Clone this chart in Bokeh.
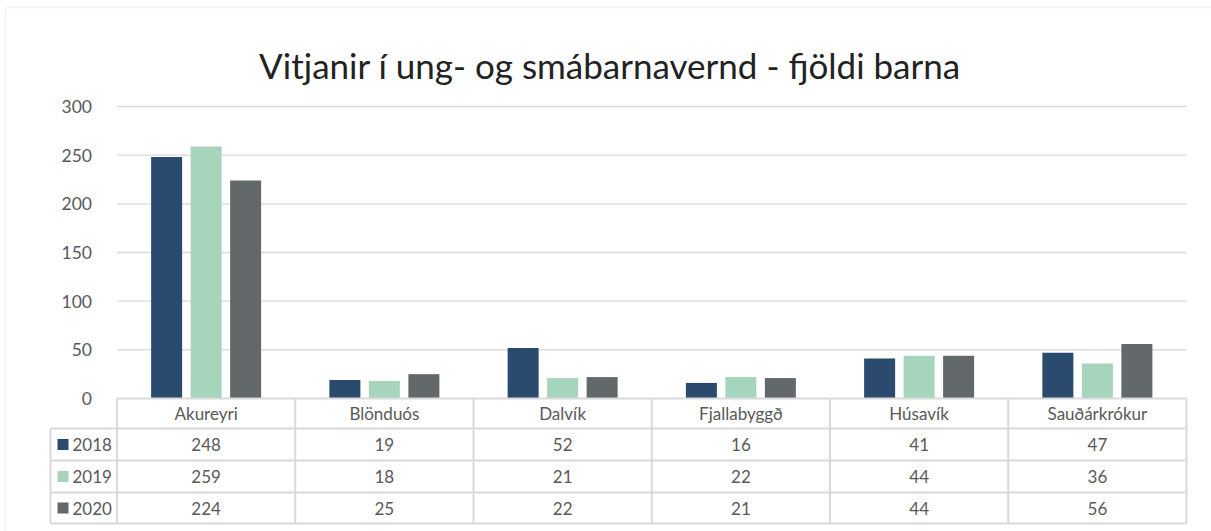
from bokeh.plotting import figure
from bokeh.models import Range1d, LinearAxis, FixedTicker, BoxAnnotation
from bokeh.core.properties import value
from bokeh.embed import file_html
from bokeh.resources import INLINE

# ---------------- data ----------------
TITLE = "Vitjanir í ung- og smábarnavernd - fjöldi barna"
CATEGORIES = ["Akureyri", "Blönduós", "Dalvík", "Fjallabyggð", "Húsavík", "Sauðárkrókur"]
YEARS = ["2018", "2019", "2020"]
V2018 = [248, 19, 52, 16, 41, 47]
V2019 = [259, 18, 21, 22, 44, 36]
V2020 = [224, 25, 22, 21, 44, 56]
Y_TICKS = [0, 50, 100, 150, 200, 250, 300]

# ---------------- style / layout ----------------
COLORS = ["#2a4a6e", "#a7d4bd", "#63686a"]
FONT = "Lato"
GRID_COLOR = "#d9d9d9"
TEXT_COLOR = "#595959"

PAGE_L, PAGE_T = 0, 0
W, H = 1211, 531
PLOT_L = 116.5          # page px of category 0 left edge
CAT_PX = 178.25         # px per category
Y0_PX = 398.0           # page px of value 0
UNIT_PX = 292.0 / 300.0 # px per value unit
ROW_EDGES_PX = [398, 428, 460, 492, 523]
ROWLABEL_L_PX = 50
BAR_OFFSET = 39.5 / CAT_PX
BAR_W = 31.0 / CAT_PX


def px2x(px):
    return (px - PLOT_L) / CAT_PX


def px2y(py):
    return (Y0_PX - py) / UNIT_PX


p = figure(width=W, height=H, output_backend="svg", toolbar_location=None,
           x_axis_type=None, y_axis_type=None,
           x_range=Range1d(px2x(PAGE_L), px2x(PAGE_L + W)),
           y_range=Range1d(px2y(PAGE_T + H), px2y(PAGE_T)),
           min_border=0, min_border_left=0, min_border_right=0,
           min_border_top=0, min_border_bottom=0)
p.grid.visible = False
p.outline_line_color = None
p.background_fill_color = "white"
p.border_fill_color = "white"

# chart-area border
p.add_layout(BoxAnnotation(left=px2x(5), right=px2x(1230), top=px2y(7), bottom=px2y(560),
                           fill_color=None, line_color=GRID_COLOR, line_width=1.5))

n = len(CATEGORIES)

# y axis placed inside the frame at the plot's left edge
yaxis = LinearAxis(fixed_location=0, ticker=FixedTicker(ticks=Y_TICKS))
yaxis.axis_line_color = None
yaxis.major_tick_line_color = None
yaxis.minor_tick_line_color = None
yaxis.major_label_standoff = 19
yaxis.major_label_text_font = FONT
yaxis.major_label_text_font_size = "17.5px"
yaxis.major_label_text_color = TEXT_COLOR
p.add_layout(yaxis, "left")

# gridlines
gt = [t for t in Y_TICKS if t > 0]
p.segment(x0=[0] * len(gt), x1=[n] * len(gt), y0=gt, y1=gt,
          line_color=GRID_COLOR, line_width=1.3)

# bars
series = [V2018, V2019, V2020]
for k, (vals, col) in enumerate(zip(series, COLORS)):
    xs = [i + 0.5 + (k - 1) * BAR_OFFSET for i in range(n)]
    p.vbar(x=xs, top=vals, bottom=0, width=BAR_W, fill_color=col, line_color=None)

# data table lines
ys = [px2y(v) for v in ROW_EDGES_PX]
hx0 = [0] + [px2x(ROWLABEL_L_PX)] * (len(ys) - 1)
p.segment(x0=hx0, x1=[n] * len(ys), y0=ys, y1=ys, line_color=GRID_COLOR, line_width=2)
vx = [px2x(ROWLABEL_L_PX)] + list(range(n + 1))
vy0 = [ys[1]] + [ys[0]] * (n + 1)
p.segment(x0=vx, x1=vx, y0=vy0, y1=[ys[-1]] * len(vx), line_color=GRID_COLOR, line_width=2)

row_c = [(ys[i] + ys[i + 1]) / 2 for i in range(len(ys) - 1)]

# header text
p.text(x=[i + 0.5 for i in range(n)], y=[row_c[0]] * n, text=CATEGORIES,
       text_font=value(FONT), text_font_size="17px", text_color=TEXT_COLOR,
       text_align="center", text_baseline="middle")

# cell text
cx, cy, ct = [], [], []
for r, vals in enumerate(series):
    for i, v in enumerate(vals):
        cx.append(i + 0.5)
        cy.append(row_c[r + 1])
        ct.append(str(v))
p.text(x=cx, y=cy, text=ct, text_font=value(FONT), text_font_size="17px",
       text_color=TEXT_COLOR, text_align="center", text_baseline="middle")

# row labels with legend keys
p.scatter(x=[px2x(62.5)] * 3, y=row_c[1:], marker="square", size=11,
          fill_color=COLORS, line_color=None)
p.text(x=[px2x(72)] * 3, y=row_c[1:], text=YEARS, text_font=value(FONT),
       text_font_size="17px", text_color=TEXT_COLOR, text_align="left",
       text_baseline="middle")

# title
p.text(x=[px2x(609.5)], y=[px2y(64)], text=[TITLE], text_font=value(FONT),
       text_font_size="35px", text_color="#222222", text_align="center",
       text_baseline="alphabetic")

open("out.html", "w").write(file_html(p, INLINE))
